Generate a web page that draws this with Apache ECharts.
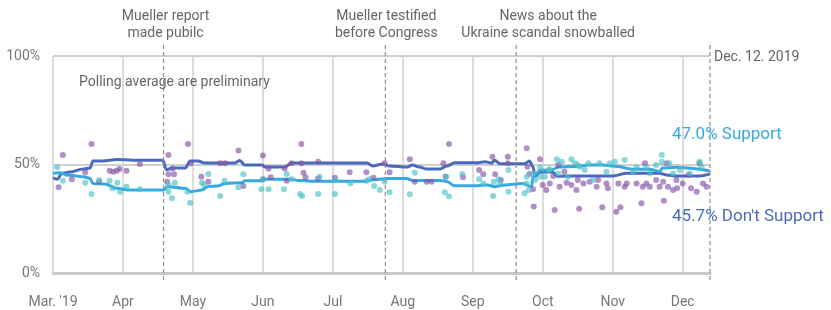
<!DOCTYPE html>
<html>
<head>
<meta charset="utf-8">
<script src="https://cdn.jsdelivr.net/npm/echarts@6/dist/echarts.min.js"></script>
<style>
  html, body { margin: 0; padding: 0; background: #fff; }
  #chart { width: 831px; height: 310px; }
</style>
</head>
<body>
<div id="chart"></div>
<script>
// x = months since Mar 1 2019 (each month one unit), y = percent
const monthLabels = ["Mar. '19", 'Apr', 'May', 'Jun', 'Jul', 'Aug', 'Sep', 'Oct', 'Nov', 'Dec'];
const lastDay = 9.39; // Dec. 12
const lastDayLabel = 'Dec. 12. 2019';

const eventDates = [1.58, 4.75, 6.62];
const eventLabels = ['Mueller report\nmade pubilc', 'Mueller testified\nbefore Congress', 'News about the\nUkraine scandal snowballed'];

// polling averages
const dontSupportAvg = [
  [0, 43.8], [0.06, 43.2], [0.13, 46], [0.24, 46.5], [0.43, 47.9], [0.53, 48.4], [0.57, 51.6], [0.71, 51.6],
  [0.91, 52.3], [1.14, 52], [1.57, 52], [1.62, 47.6], [1.70, 48.4], [1.89, 48.4], [1.96, 51.6], [2.07, 51.6],
  [2.17, 50.7], [2.60, 50.7], [2.67, 51.8], [2.74, 49.8], [2.99, 49.8], [3.03, 48.8], [3.31, 48.8], [3.41, 50.7],
  [4.49, 50.7], [4.57, 49.3], [4.71, 50.2], [4.81, 49.3], [5.06, 48.8], [5.14, 49.8], [5.24, 48.8], [5.34, 47.9],
  [5.53, 47.9], [5.63, 49.3], [5.74, 50.8], [6.07, 50.8], [6.17, 51.3], [6.27, 50.6], [6.31, 52], [6.39, 50.3],
  [6.74, 50.3], [6.81, 51.6], [6.86, 49], [6.89, 44.6], [6.96, 46.4], [7.03, 46.6], [7.14, 46.6], [7.21, 44.6],
  [7.67, 44.7], [8.00, 44.7], [8.20, 46], [8.67, 46], [8.77, 45.2], [8.91, 44.7], [9.24, 44.7], [9.39, 45.7]
];
const supportAvg = [
  [0, 46], [0.10, 46.2], [0.20, 45.2], [0.43, 44.4], [0.53, 43.6], [0.57, 41.3], [0.74, 41], [0.91, 39],
  [1.10, 38.2], [1.57, 38.2], [1.64, 39.8], [1.89, 39], [1.97, 37.5], [2.13, 38.2], [2.21, 39.8], [2.36, 40.1],
  [2.46, 41.3], [2.70, 41.6], [2.74, 42.5], [2.99, 42.5], [3.03, 43.2], [3.41, 43.2], [3.50, 42.6], [3.79, 42.3],
  [4.49, 42.3], [4.57, 43], [4.77, 43.5], [5.06, 43.5], [5.14, 42.6], [5.53, 42.6], [5.63, 42.2], [5.74, 40.2],
  [6.07, 40.2], [6.21, 40.6], [6.31, 39.8], [6.46, 40.6], [6.70, 41.3], [6.84, 39.8], [6.86, 44.4], [6.91, 46],
  [6.97, 47.5], [7.10, 47.3], [7.24, 48.8], [7.47, 49.1], [7.67, 49.8], [7.86, 49.8], [8.06, 49.1], [8.29, 47.8],
  [8.53, 47.8], [8.67, 46.8], [8.71, 48.4], [8.91, 48.7], [9.10, 48.3], [9.39, 47.0]
];

// individual polls
const dontSupportPolls = [
  [0.14, 54.4], [0.55, 59.4], [0.08, 39.5], [0.27, 43.2], [0.46, 46.4], [0.66, 42.1], [0.81, 47.1], [0.86, 46.7],
  [0.91, 47.1], [0.95, 47.9], [1.05, 47.1], [1.24, 50.2], [1.65, 54.4], [1.65, 45.5], [1.73, 45.5], [1.63, 42.1],
  [1.71, 48.2], [1.93, 59.4], [1.97, 50.6], [2.12, 44.4], [2.22, 42.1], [2.39, 50.6], [2.46, 50.6], [2.65, 56.4],
  [2.72, 40.1], [3.00, 54.1], [3.00, 43.2], [3.08, 48.2], [3.11, 44.1], [3.31, 48.2], [3.34, 42.5], [3.41, 50.6],
  [3.55, 59.4], [3.55, 50.6], [3.58, 46.2], [3.61, 44.1], [3.79, 43.6], [3.79, 51.3], [4.03, 43.9], [4.24, 46.4],
  [4.48, 46.4], [4.58, 43.9], [4.74, 50.6], [4.81, 46.4], [5.10, 52.4], [5.17, 42.1], [5.34, 42.1], [5.41, 42.1],
  [5.58, 50.6], [5.61, 44.4], [5.66, 59.4], [5.86, 44.1], [6.09, 47.5], [6.15, 45.5], [6.28, 53.6], [6.32, 45.5],
  [6.40, 42.9], [6.50, 53.6], [6.50, 50.6], [6.77, 57.5], [6.78, 49.0], [6.81, 45.6], [6.86, 38.6], [6.87, 30.6],
  [6.96, 52.4], [7.00, 40.6], [7.05, 38.2], [7.10, 41.3], [7.15, 44.7], [7.17, 29.0], [7.22, 49.8], [7.24, 39.8],
  [7.34, 41.6], [7.31, 46.7], [7.41, 40.6], [7.48, 38.2], [7.50, 42.9], [7.52, 29.6], [7.58, 41.3], [7.67, 42.1],
  [7.77, 39.8], [7.79, 42.9], [7.85, 30.3], [7.91, 41.3], [7.93, 39.0], [8.05, 28.2], [8.08, 41.3], [8.11, 30.3],
  [8.17, 39.8], [8.20, 41.3], [8.34, 41.3], [8.41, 32.1], [8.43, 39.8], [8.46, 50.6], [8.48, 41.3], [8.53, 39.8],
  [8.62, 42.9], [8.67, 39.8], [8.72, 42.1], [8.73, 33.3], [8.77, 50.6], [8.79, 39.8], [8.86, 38.2], [8.91, 42.9],
  [8.92, 39.0], [9.00, 41.3], [9.08, 45.2], [9.12, 39.0], [9.20, 37.5], [9.24, 50.6], [9.29, 41.3], [9.34, 39.8]
];
const supportPolls = [
  [0.06, 48.7], [0.14, 42.5], [0.46, 41.6], [0.55, 36.4], [0.66, 42.9], [0.81, 42.5], [0.85, 39.0], [0.92, 41.6],
  [0.96, 37.5], [1.05, 39.8], [1.24, 38.6], [1.65, 37.5], [1.74, 41.6], [1.70, 34.4], [1.65, 40.6], [1.92, 37.5],
  [1.96, 32.4], [2.13, 41.6], [2.16, 40.6], [2.22, 45.6], [2.39, 35.5], [2.45, 42.5], [2.65, 39.5], [2.72, 45.5],
  [2.98, 38.6], [3.00, 43.2], [3.08, 38.6], [3.30, 38.6], [3.34, 45.6], [3.41, 43.2], [3.53, 36.4], [3.56, 35.5],
  [3.79, 36.4], [3.81, 44.4], [4.03, 42.9], [4.03, 36.4], [4.25, 41.3], [4.48, 42.5], [4.52, 43.2], [4.59, 40.1],
  [4.67, 38.2], [4.81, 37.2], [4.74, 42.1], [5.17, 46.2], [5.10, 36.3], [5.60, 37.2], [5.66, 35.2], [5.62, 44.4],
  [5.85, 45.6], [6.09, 43.2], [6.15, 41.3], [6.29, 35.5], [6.30, 42.1], [6.37, 43.2], [6.39, 41.3], [6.51, 47.5],
  [6.51, 37.5], [6.77, 44.4], [6.77, 41.3], [6.80, 38.2], [6.74, 36.7], [6.86, 45.9], [6.89, 42.9], [6.96, 48.7],
  [6.96, 44.4], [7.03, 44.4], [7.08, 47.5], [7.10, 47.8], [7.20, 52.4], [7.22, 45.9], [7.27, 51.3], [7.36, 44.4],
  [7.41, 52.4], [7.46, 50.6], [7.50, 49.8], [7.53, 49.0], [7.60, 47.5], [7.65, 50.6], [7.72, 42.9], [7.81, 50.6],
  [7.91, 46.7], [7.96, 50.6], [8.03, 51.3], [8.17, 52.1], [8.29, 46.7], [8.34, 48.7], [8.48, 48.7], [8.53, 45.9],
  [8.62, 49.8], [8.70, 54.4], [8.70, 51.3], [8.81, 50.6], [8.86, 45.9], [8.96, 47.5], [9.10, 45.9], [9.24, 51.3],
  [9.27, 49.0]
];

const FONT = 'Roboto, "Noto Sans", sans-serif';
const chart = echarts.init(document.getElementById('chart'), null, { renderer: 'canvas' });

chart.setOption({
  animation: false,
  textStyle: { fontFamily: FONT },
  grid: { left: 53, right: 121, top: 56, bottom: 37 },
  xAxis: {
    type: 'value', min: 0, max: lastDay, interval: 1,
    axisLine: { show: true, lineStyle: { color: '#c8c8c8', width: 3 } },
    axisTick: { show: false },
    axisLabel: {
      margin: 22, color: '#777', fontSize: 14, showMaxLabel: false,
      formatter: v => Number.isInteger(v) ? monthLabels[v] : ''
    },
    splitLine: { show: true, showMaxLine: false, lineStyle: { color: '#d0d0d0', width: 1.5 } }
  },
  yAxis: {
    type: 'value', min: 0, max: 100, interval: 50,
    axisLine: { show: false },
    axisTick: { show: false },
    axisLabel: { formatter: '{value}%', margin: 13, color: '#777', fontSize: 14 },
    splitLine: { lineStyle: { color: '#d0d0d0', width: 2 } }
  },
  series: [
    {
      name: "Don't Support", type: 'line', data: dontSupportAvg, showSymbol: false,
      smooth: 0.3, smoothMonotone: 'x',
      lineStyle: { color: '#4a6abb', width: 3 }, z: 3,
      endLabel: {
        show: true, formatter: "45.7% Don't Support", color: '#4a6abb', fontSize: 17,
        distance: 0, offset: [-38, 43]
      }
    },
    {
      name: 'Support', type: 'line', data: supportAvg, showSymbol: false,
      smooth: 0.3, smoothMonotone: 'x',
      lineStyle: { color: '#37a9e1', width: 3 }, z: 3,
      endLabel: {
        show: true, formatter: '47.0% Support', color: '#37a9e1', fontSize: 17,
        distance: 0, offset: [-38, -36]
      }
    },
    {
      type: 'scatter', data: dontSupportPolls, symbolSize: 6, z: 4,
      itemStyle: { color: '#8453a6', opacity: 0.65 }
    },
    {
      type: 'scatter', data: supportPolls, symbolSize: 6, z: 4,
      itemStyle: { color: '#4cc2c6', opacity: 0.65 }
    }
  ]
});

// event markers and notes, placed through the axes
const gridTop = chart.convertToPixel({ gridIndex: 0 }, [0, 100])[1];
const gridBottom = chart.convertToPixel({ gridIndex: 0 }, [0, 0])[1];
const textShift = [2, 1, 32];
const graphics = [];
eventDates.concat([lastDay]).forEach((t, i) => {
  const x = chart.convertToPixel({ gridIndex: 0 }, [t, 0])[0];
  graphics.push({
    type: 'line', z: 5,
    shape: { x1: x, y1: gridTop - 11, x2: x, y2: gridBottom + 10 },
    style: { stroke: '#8f8f8f', lineWidth: 1.2, lineDash: [4, 3] }
  });
  if (i < eventLabels.length) {
    graphics.push({
      type: 'text', z: 5, x: x + textShift[i], y: 8,
      style: { text: eventLabels[i], font: '14px ' + FONT, fill: '#666', align: 'center', lineHeight: 17 }
    });
  } else {
    graphics.push({
      type: 'text', z: 5, x: x + 4, y: gridTop + 1,
      style: { text: lastDayLabel, font: '14px ' + FONT, fill: '#666', align: 'left', verticalAlign: 'middle' }
    });
  }
});
graphics.push({
  type: 'text', z: 5, x: 79, y: gridTop + 26,
  style: { text: 'Polling average are preliminary', font: '14px ' + FONT, fill: '#666', verticalAlign: 'middle' }
});
chart.setOption({ graphic: graphics });
</script>
</body>
</html>
